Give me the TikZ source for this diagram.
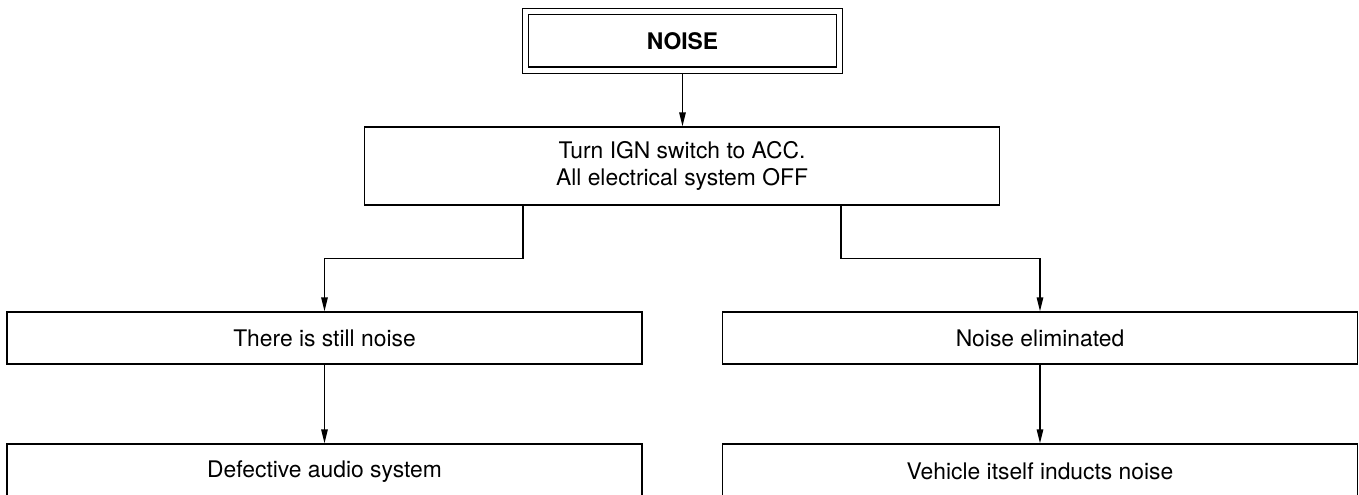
\documentclass[tikz,border=0pt]{standalone}
\usepackage{fontspec}
\setmainfont{TeX Gyre Heros}
\usetikzlibrary{positioning,arrows.meta,calc}
\tikzset{
  flow box/.style={
    rectangle,
    draw,
    line width=0.8pt,
    minimum width=12.7cm,
    minimum height=1.04cm,
    align=center,
    inner sep=2pt,
    font=\fontsize{13pt}{15.2pt}\selectfont
  },
  start box/.style={
    flow box,
    double,
    double distance=0.1cm,
    minimum width=6.28cm,
    minimum height=1.17cm,
    outer sep=0.07cm,
    font=\fontsize{13pt}{15.2pt}\selectfont\bfseries
  },
  arrow/.style={
    -{Triangle[length=2.8mm,width=1.3mm]},
    line width=0.8pt
  }
}

\begin{document}
\begin{tikzpicture}

  \clip (0,0) rectangle (27.18,-9.9);

  % start
  \node[start box] (noise) at (13.65,-0.815) {NOISE};

  % check
  \node[flow box, minimum height=1.56cm] (ign) at (13.64,-3.32)
    {Turn IGN switch to ACC.\\All electrical system OFF};

  % results
  \node[flow box] (still) at (6.49,-6.76) {There is still noise};
  \node[flow box] (gone) at (20.8,-6.76) {Noise eliminated};

  % diagnosis
  \node[flow box, minimum height=1.1cm] (audio) at (6.49,-9.43) {Defective audio system};
  \node[flow box, minimum height=1.1cm] (vehicle) at (20.8,-9.43) {Vehicle itself inducts noise};

  % branch points
  \coordinate (ignL) at ($(ign.south west)!0.25!(ign.south east)$);
  \coordinate (ignR) at ($(ign.south west)!0.75!(ign.south east)$);

  % connectors
  \draw[arrow] (noise.south) -- (noise.south |- ign.north);
  \draw[arrow] (ignL) |- ($(ignL)!0.5!(still.north)$) -| (still.north);
  \draw[arrow] (ignR) |- ($(ignR)!0.5!(gone.north)$) -| (gone.north);
  \draw[arrow] (still) -- (audio);
  \draw[arrow] (gone) -- (vehicle);

\end{tikzpicture}
\end{document}
